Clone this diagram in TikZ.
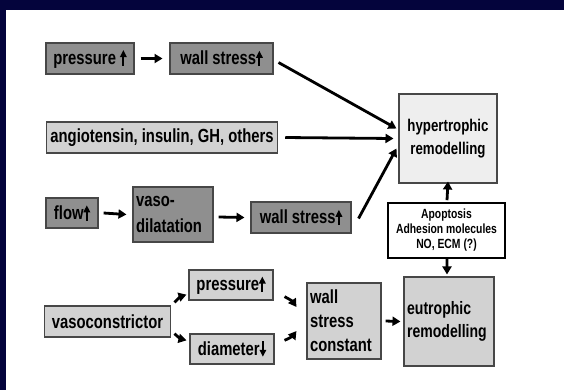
\documentclass[tikz,border=0pt]{standalone}
\usepackage{fontspec}
\setmainfont{Liberation Sans}[FakeStretch=0.78]
\usetikzlibrary{arrows.meta}
\definecolor{slide-navy}{HTML}{04043C}
\definecolor{dark-box}{HTML}{8F8F8F}
\definecolor{light-box}{HTML}{D2D2D2}
\definecolor{pale-box}{HTML}{EEEEEE}
\definecolor{edge}{HTML}{474747}
\newcommand{\uparr}{\tikz[baseline=0pt]\draw[line width=2pt,-{Triangle[length=7pt,width=6.5pt]}] (0pt,-1.5pt) -- (0pt,14pt);}
\newcommand{\downarr}{\tikz[baseline=0pt]\draw[line width=2pt,-{Triangle[length=7pt,width=6.5pt]}] (0pt,14pt) -- (0pt,-1.5pt);}

\begin{document}
\begin{tikzpicture}[x=1bp, y=-1bp,
    every node/.style={font=\bfseries\fontsize{19bp}{24bp}\selectfont, inner sep=2bp},
    darkbox/.style={draw=edge, line width=1.4bp, fill=dark-box},
    lightbox/.style={draw=edge, line width=1.4bp, fill=light-box},
    arr/.style={line width=2.8bp, -{Triangle[length=8bp, width=9bp]}}]
    \useasboundingbox (0,0) rectangle (564,390);
    \fill[slide-navy] (0,0) rectangle (564,390);
    \fill[white] (6,10) rectangle (564,390);
    % top row
    \node[darkbox, minimum width=88, minimum height=31] (pres1) at (90,58.5) {pressure \uparr};
    \node[darkbox, minimum width=103, minimum height=31] (ws1) at (221.5,58.5) {wall stress\uparr};
    \node[lightbox, minimum width=232, minimum height=31] (angio) at (162,137.5)
      {angiotensin, insulin, GH, others};
    \node[lightbox, fill=pale-box, minimum width=98, minimum height=89, align=center,
      font=\bfseries\fontsize{17bp}{23bp}\selectfont] (hyper) at (448,138.5)
      {hypertrophic\\remodelling};
    % flow row
    \node[darkbox, minimum width=52, minimum height=30] (flow) at (72,213) {flow\uparr};
    \node[darkbox, minimum width=80, minimum height=55, text width=74, align=left,
      font=\bfseries\fontsize{19bp}{26bp}\selectfont] (vaso) at (173,214.5)
      {vaso-\\dilatation};
    \node[darkbox, minimum width=100, minimum height=31] (ws2) at (301,217.5) {wall stress\uparr};
    \node[draw=black, line width=1.8bp, fill=white, minimum width=117, minimum height=55,
      align=center, inner sep=1bp, font=\bfseries\fontsize{13.3bp}{15bp}\selectfont] (apop) at (446.5,230.5)
      {Apoptosis\\Adhesion molecules\\NO, ECM (?)};
    % vasoconstrictor row
    \node[lightbox, minimum width=127, minimum height=31] (vasoc) at (107.5,321.5) {vasoconstrictor};
    \node[lightbox, minimum width=84, minimum height=30] (pres2) at (231,285) {pressure\uparr};
    \node[lightbox, minimum width=84, minimum height=30] (diam) at (232,349) {diameter\downarr};
    \node[lightbox, minimum width=74, minimum height=76, text width=68, align=left] (wsc) at (344,321)
      {wall\\stress\\constant};
    \node[lightbox, minimum width=90, minimum height=89, text width=84, align=left,
      font=\bfseries\fontsize{18bp}{23bp}\selectfont] (eutro) at (449,321.5)
      {eutrophic\\remodelling};
    % arrows
    \draw[arr] ([xshift=6]pres1.east) -- ([xshift=-7]ws1.west);
    \draw[arr] ([shift={(5,4)}]ws1.east) -- ([shift={(-2,-10)}]hyper.west);
    \draw[arr] ([xshift=7]angio.east) -- ([xshift=-5]hyper.west);
    \draw[arr] ([shift={(7,1)}]ws2.east) -- ([shift={(-2,10)}]hyper.west);
    \draw[arr] ([xshift=5]flow.east) -- ([xshift=-6]vaso.west);
    \draw[arr] ([shift={(5,2.5)}]vaso.east) -- ([xshift=-6]ws2.west);
    \draw[arr] ([shift={(0.5,-2)}]apop.north) -- ([yshift=2]hyper.south);
    \draw[arr] ([shift={(0.5,0)}]apop.south) -- ([shift={(-2,-2)}]eutro.north);
    \draw[arr] ([shift={(3,-3)}]vasoc.north east) to[bend left=15] ([shift={(-2,-6)}]pres2.south west);
    \draw[arr] ([shift={(3,-4)}]vasoc.south east) to[bend right=15] ([shift={(-3,7)}]diam.north west);
    \draw[arr] ([shift={(11,-4)}]pres2.south east) to[bend left=15] ([shift={(-10,-14)}]wsc.west);
    \draw[arr] ([shift={(10,7)}]diam.north east) to[bend right=15] ([shift={(-10,10)}]wsc.west);
    \draw[arr] ([xshift=4]wsc.east) -- ([xshift=-3]eutro.west);
\end{tikzpicture}
\end{document}
